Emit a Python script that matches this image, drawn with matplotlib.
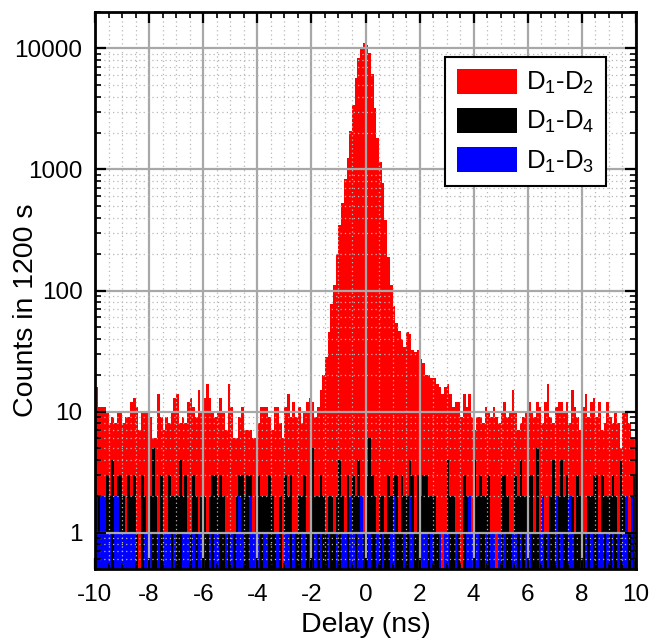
import numpy as np
import matplotlib
matplotlib.use("Agg")
import matplotlib.pyplot as plt
from matplotlib.ticker import FixedLocator, FuncFormatter, MultipleLocator, LogLocator, NullFormatter
from matplotlib.patches import Patch

plt.rcParams['font.family'] = ['Liberation Sans', 'DejaVu Sans']
plt.rcParams['mathtext.fontset'] = 'custom'
plt.rcParams['mathtext.rm'] = 'Liberation Sans'
plt.rcParams['mathtext.it'] = 'Liberation Sans'
plt.rcParams['mathtext.default'] = 'regular'

# ---- data: 0.1 ns bins from -10 to 10 ns ----
bin_start = -10.0
bin_width = 0.1

counts_d1d2 = [
    # -10.0 .. -6.0
    16, 11, 11, 11, 10, 8, 9, 8, 10, 10, 8, 9, 9, 12, 13, 11, 7, 10, 10, 10,
    9, 6, 6, 14, 9, 7, 9, 8, 10, 13, 14, 8, 9, 8, 12, 13, 11, 9, 15, 10, 13,
    # -5.9 .. -2.0
    17, 13, 10, 9, 10, 13, 10, 7, 17, 11, 6, 6, 9, 11, 7, 7, 7, 6, 6, 8,
    11, 11, 11, 9, 7, 11, 11, 8, 6, 11, 14, 9, 12, 9, 11, 8, 10, 12, 13, 12,
    # -1.9 .. -0.1
    9, 11, 15, 20, 28, 45, 78, 110, 200, 350, 530, 830, 1250, 2080, 3400,
    5700, 8400, 10200, 11000,
    # 0.0 .. 2.1
    10600, 9200, 6100, 3200, 1830, 1150, 780, 380, 190, 110, 75, 54, 46, 40,
    34, 45, 44, 32, 31, 32, 27, 25,
    # 2.2 .. 6.2
    20, 20, 19, 19, 17, 16, 14, 16, 17, 14, 11, 12, 12, 9, 14, 11, 14, 9, 7, 9,
    9, 8, 11, 10, 9, 11, 9, 8, 10, 12, 9, 10, 15, 10, 7, 8, 9, 10, 12, 10, 9,
    # 6.3 .. 9.9
    12, 11, 8, 12, 17, 9, 8, 11, 12, 12, 10, 12, 8, 15, 11, 9, 7, 11, 14, 9,
    12, 13, 9, 12, 7, 8, 12, 9, 8, 10, 8, 5, 10, 10, 8, 6, 6,
]

counts_d1d4 = [
    2, 2, 2, 2, 3, 2, 4, 2, 3, 3, 2, 1, 3, 2, 3, 1, 0, 3, 2, 1,
    2, 5, 2, 1, 3, 0, 1, 3, 2, 2, 2, 4, 2, 3, 1, 1, 3, 2, 1, 2, 2,
    1, 2, 3, 3, 2, 3, 2, 1, 1, 1, 1, 2, 3, 3, 2, 3, 3, 1, 1, 3,
    2, 2, 2, 3, 2, 1, 1, 2, 0, 3, 2, 3, 1, 1, 2, 2, 3, 1, 1, 5,
    2, 2, 3, 2, 1, 2, 2, 1, 2, 4, 2, 1, 3, 2, 3, 2, 4, 2, 1, 3,
    6, 3, 2, 1, 2, 2, 1, 3, 2, 3, 3, 1, 3, 2, 2, 4, 3, 1, 3, 2, 3,
    3, 2, 2, 2, 1, 1, 0, 1, 4, 2, 2, 1, 1, 0, 3, 2, 2, 1, 4, 2,
    3, 2, 2, 3, 1, 1, 0, 1, 3, 3, 2, 1, 1, 3, 2, 4, 2, 2, 3, 3, 1,
    5, 1, 2, 1, 1, 2, 4, 1, 2, 4, 2, 3, 2, 2, 1, 3, 2, 1, 1, 2,
    2, 3, 3, 1, 3, 2, 2, 2, 3, 2, 1, 4, 2, 2, 1, 1, 3,
]

counts_d1d3 = [
    2, 1, 2, 2, 1, 1, 0, 2, 2, 1, 1, 1, 1, 1, 1, 0, 0, 0, 1, 1,
    1, 0, 0, 1, 0, 1, 1, 1, 0, 1, 0, 0, 1, 1, 1, 0, 1, 0, 1, 1, 0,
    0, 1, 0, 1, 1, 0, 0, 1, 0, 1, 0, 1, 2, 1, 0, 0, 2, 1, 2, 1,
    0, 1, 1, 0, 0, 0, 1, 0, 0, 1, 1, 0, 1, 0, 0, 1, 1, 0, 1, 0,
    1, 0, 1, 0, 0, 1, 0, 0, 1, 0, 1, 1, 0, 2, 1, 0, 1, 2, 0, 0,
    1, 0, 0, 1, 0, 1, 0, 0, 1, 2, 0, 0, 0, 1, 0, 2, 1, 0, 0, 1, 1,
    1, 0, 1, 0, 0, 1, 0, 1, 1, 0, 0, 1, 0, 0, 0, 1, 2, 1, 0, 1,
    0, 0, 1, 0, 1, 1, 0, 1, 0, 1, 0, 0, 1, 1, 0, 1, 0, 1, 1, 0, 0,
    0, 1, 2, 0, 1, 0, 0, 2, 0, 1, 0, 0, 2, 1, 0, 0, 0, 0, 1, 0,
    1, 0, 0, 1, 1, 0, 1, 0, 1, 0, 1, 0, 1, 2, 0, 2, 0,
]

series_labels = ['D$_1$-D$_2$', 'D$_1$-D$_4$', 'D$_1$-D$_3$']
series_colors = ['#ff0000', '#000000', '#0000ff']
x_ticks = [-10, -8, -6, -4, -2, 0, 2, 4, 6, 8, 10]
y_ticks = [1, 10, 100, 1000, 10000]

# ---- figure ----
fig = plt.figure(figsize=(6.49, 6.43), dpi=100)
ax = fig.add_axes([95 / 649, 74 / 643, 541 / 649, 557 / 643])
ax.set_yscale('log')

n = len(counts_d1d2)
edges = bin_start + bin_width * np.arange(n + 1)
baseline = 0.1
for vals, col in zip([counts_d1d2, counts_d1d4, counts_d1d3], series_colors):
    v = np.asarray(vals, dtype=float)
    v = np.where(v > 0, v, baseline)
    ax.fill_between(edges, np.append(v, v[-1]), baseline, step='post',
                    facecolor=col, edgecolor='none', linewidth=0,
                    antialiased=False, zorder=1)

ax.set_xlim(-10, 10)
ax.set_ylim(0.5, 20000)

ax.xaxis.set_major_locator(FixedLocator(x_ticks))
ax.xaxis.set_minor_locator(MultipleLocator(0.5))
ax.yaxis.set_major_locator(FixedLocator(y_ticks))
ax.yaxis.set_minor_locator(LogLocator(base=10, subs=np.arange(2, 10)))
ax.yaxis.set_minor_formatter(NullFormatter())
ax.yaxis.set_major_formatter(FuncFormatter(lambda v, p: f"{int(round(v))}"))
ax.xaxis.set_major_formatter(FuncFormatter(lambda v, p: f"{int(round(v))}"))

ax.grid(True, which='major', color='#a8a8a8', linewidth=1.6, linestyle='-', zorder=2)
ax.grid(True, which='minor', color='#b8b8b8', linewidth=0.9, linestyle=(0, (1, 2.5)), zorder=2)
ax.set_axisbelow(False)

ax.tick_params(which='both', direction='in', top=True, right=True, colors='black')
ax.tick_params(which='major', length=8, width=1.6, labelsize=17.5)
ax.tick_params(axis='x', which='major', pad=11)
ax.tick_params(axis='y', which='major', pad=9)
ax.tick_params(which='minor', length=4, width=1.2)

for s in ax.spines.values():
    s.set_linewidth(2.0)
    s.set_color('black')
    s.set_zorder(5)

ax.set_xlabel('Delay (ns)', fontsize=20.5)
ax.xaxis.set_label_coords(0.5, (569 - 612) / 557)
ax.set_ylabel('Counts in 1200 s', fontsize=20.5)
ax.yaxis.set_label_coords((39 - 95) / 541, (569 - 310) / 557)

handles = [Patch(facecolor=c, edgecolor='none') for c in series_colors]
leg = ax.legend(handles, series_labels, loc='upper right',
                bbox_to_anchor=((606 - 95) / 541, (569 - 57) / 557),
                borderaxespad=0, fontsize=18.5, handlelength=2.35, handleheight=1.15,
                handletextpad=0.35, labelspacing=0.45, borderpad=0.45,
                fancybox=False, framealpha=1, edgecolor='black')
leg.get_frame().set_linewidth(1.5)
leg.set_zorder(10)

fig.savefig('out.png', dpi=100)
